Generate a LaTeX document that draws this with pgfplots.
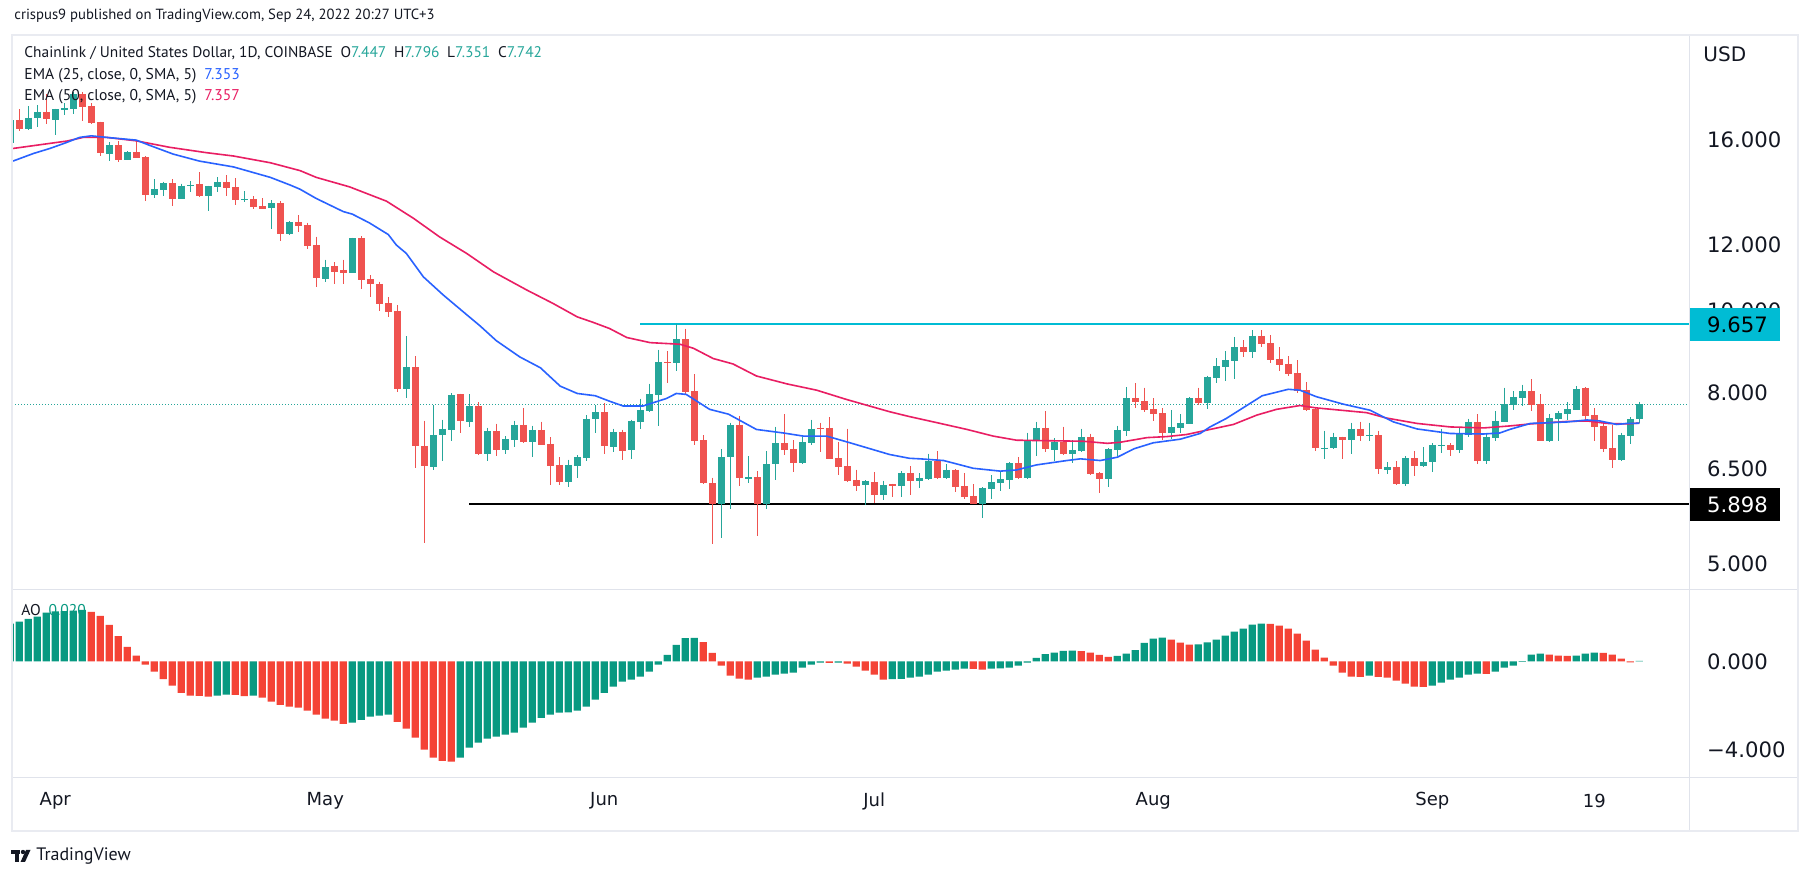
\documentclass[border=0pt]{standalone}
\usepackage{pgfplots}
\pgfplotsset{compat=1.18}
\usepackage{pgfplotstable}
\usepackage{fontspec}
\setmainfont{PT Sans}
\newfontfamily\dejavu{DejaVu Sans}
\definecolor{tvgreen}{HTML}{26A69A}
\definecolor{tvred}{HTML}{EF5350}
\definecolor{aogreen}{HTML}{089981}
\definecolor{aored}{HTML}{F44336}
\definecolor{emablue}{HTML}{2962FF}
\definecolor{emapink}{HTML}{E91E63}
\definecolor{cyanline}{HTML}{00BCD4}
\definecolor{framec}{HTML}{E0E3EB}
\definecolor{textdark}{HTML}{131722}

\pgfplotstableread{
k o h l c
-1 15.83 16.90 15.80 16.87
1 16.46 17.53 16.44 16.99
2 16.96 17.58 16.56 17.25
4 16.87 17.40 16.21 17.39
5 17.34 17.66 17.12 17.45
6 17.39 18.23 17.15 18.12
10 15.38 15.88 15.08 15.75
12 15.13 15.50 15.12 15.45
15 13.74 14.35 13.63 13.96
16 13.94 14.24 13.70 14.20
18 13.60 14.18 13.59 14.10
19 14.08 14.27 13.85 14.12
21 13.70 14.09 13.15 14.08
22 14.04 14.42 13.85 14.22
25 13.57 13.89 13.49 13.59
28 13.27 13.55 12.51 13.43
30 12.34 12.79 12.31 12.75
34 10.92 11.50 10.84 11.28
37 11.10 12.22 11.09 12.21
43 8.07 9.33 7.88 8.57
46 6.52 7.73 6.47 7.12
47 7.12 7.42 6.63 7.24
48 7.22 7.99 7.00 7.94
50 7.38 7.96 7.28 7.71
52 6.76 7.26 6.63 7.20
54 6.83 7.10 6.76 7.04
55 7.02 7.40 6.89 7.32
57 6.98 7.30 6.70 7.22
61 6.26 6.65 6.17 6.56
62 6.54 6.74 6.33 6.70
63 6.68 7.52 6.63 7.44
64 7.44 7.73 7.16 7.58
66 6.89 7.24 6.79 7.18
68 6.83 7.42 6.67 7.40
69 7.38 7.86 7.24 7.62
70 7.60 8.19 7.59 7.96
71 7.94 8.99 7.30 8.70
73 8.68 9.657 8.48 9.26
78 5.90 6.85 5.37 6.70
79 6.70 7.36 5.81 7.32
81 6.32 6.72 6.24 6.34
83 5.90 6.81 5.81 6.57
84 6.57 7.28 6.29 6.96
87 6.59 7.08 6.58 6.98
88 6.96 7.42 6.93 7.24
94 6.21 6.29 5.88 6.28
96 6.04 6.28 5.96 6.21
98 6.19 6.45 6.01 6.41
100 6.28 6.41 6.16 6.33
101 6.31 6.76 6.29 6.63
103 6.33 6.57 6.32 6.47
107 5.90 6.17 5.67 6.16
108 6.14 6.38 5.97 6.26
109 6.24 6.43 6.11 6.31
110 6.29 6.61 6.14 6.59
112 6.33 7.16 6.31 7.02
113 7.00 7.38 6.72 7.26
115 6.83 7.06 6.63 6.98
117 6.76 7.02 6.59 6.83
118 6.81 7.24 6.80 7.08
121 6.31 6.87 6.17 6.85
122 6.83 7.30 6.72 7.22
123 7.20 8.12 7.10 7.88
128 7.16 7.62 7.04 7.28
129 7.26 7.54 7.16 7.36
130 7.34 7.90 7.33 7.88
132 7.77 8.37 7.64 8.35
133 8.33 8.79 8.21 8.60
134 8.57 8.96 8.25 8.74
135 8.72 9.31 8.30 9.06
137 8.94 9.49 8.79 9.34
145 6.86 7.20 6.67 6.88
146 6.87 7.16 6.86 7.08
148 7.02 7.36 6.76 7.24
150 7.11 7.36 7.00 7.12
152 6.47 6.61 6.40 6.52
154 6.22 6.72 6.19 6.68
156 6.54 6.89 6.53 6.61
157 6.61 6.96 6.43 6.93
158 6.91 7.24 6.78 6.92
160 6.83 7.26 6.78 7.14
161 7.12 7.44 7.08 7.38
163 6.63 7.16 6.57 7.08
164 7.06 7.60 7.00 7.40
165 7.38 8.10 7.37 7.75
166 7.74 8.03 7.62 7.90
167 7.88 8.17 7.71 8.03
170 7.01 7.54 6.98 7.46
171 7.44 7.60 7.01 7.56
172 7.55 7.79 7.42 7.64
173 7.63 8.14 7.62 8.07
178 6.65 7.16 6.64 7.12
179 7.10 7.48 6.95 7.44
180 7.447 7.796 7.351 7.742
}\greencandles

\pgfplotstableread{
k o h l c
0 16.87 17.38 16.39 16.46
3 17.25 18.12 16.67 16.91
7 18.10 18.20 16.82 17.50
8 17.53 17.66 16.69 16.73
9 16.78 16.80 15.30 15.43
11 15.75 15.93 15.05 15.12
13 15.45 15.94 15.19 15.20
14 15.24 15.28 13.51 13.74
17 14.20 14.35 13.33 13.60
20 14.15 14.63 13.66 13.69
23 14.22 14.50 13.70 14.00
24 14.04 14.39 13.37 13.55
26 13.59 13.70 13.22 13.30
27 13.33 13.62 13.21 13.22
29 13.43 13.51 12.11 12.34
31 12.76 13.00 12.41 12.63
32 12.65 12.73 11.84 11.94
33 11.98 12.25 10.68 10.95
35 11.31 11.43 10.77 11.12
36 11.19 11.50 10.77 11.10
38 12.21 12.28 10.62 10.88
39 10.91 11.03 10.39 10.77
40 10.77 10.83 10.00 10.19
41 10.22 10.39 9.83 9.97
42 10.00 10.16 8.01 8.07
44 8.57 8.84 6.50 6.91
45 6.91 7.40 5.30 6.54
49 7.96 7.97 7.16 7.40
51 7.71 7.79 6.75 6.76
53 7.20 7.34 6.72 6.83
56 7.32 7.66 6.96 6.98
58 7.22 7.38 6.92 6.93
59 6.95 7.08 6.21 6.54
60 6.56 6.70 6.21 6.26
65 7.58 7.77 6.76 6.91
67 7.18 7.22 6.65 6.81
72 8.70 8.96 8.21 8.68
74 9.26 9.52 7.96 8.01
75 8.03 8.41 6.93 7.00
76 7.02 7.12 6.23 6.24
77 6.24 6.33 5.28 5.90
80 7.32 7.50 6.20 6.33
82 6.34 6.45 5.40 5.90
85 6.96 7.54 6.74 6.83
86 6.85 7.02 6.43 6.59
89 7.26 7.36 6.79 7.24
90 7.26 7.48 6.66 6.67
91 6.68 6.98 6.38 6.52
92 6.54 7.24 6.26 6.27
93 6.29 6.47 6.11 6.19
95 6.26 6.43 5.91 6.04
97 6.22 6.23 6.01 6.20
99 6.41 6.54 6.04 6.28
102 6.63 6.81 6.32 6.33
104 6.47 6.48 6.09 6.17
105 6.19 6.41 5.97 6.01
106 6.02 6.22 5.89 5.90
111 6.59 6.70 6.31 6.33
114 7.26 7.60 6.79 6.85
116 6.98 7.28 6.74 6.76
119 7.08 7.14 6.39 6.40
120 6.41 6.43 6.07 6.31
124 7.88 8.21 7.66 7.79
125 7.81 8.10 7.58 7.62
126 7.64 7.88 7.40 7.54
127 7.56 7.66 7.02 7.16
131 7.88 8.10 7.73 7.77
136 9.06 9.23 8.82 8.94
138 9.34 9.49 9.06 9.13
139 9.16 9.36 8.67 8.74
140 8.77 9.06 8.48 8.62
141 8.65 8.84 8.36 8.41
142 8.43 8.74 7.99 8.03
143 8.05 8.23 7.60 7.62
144 7.64 7.66 6.81 6.87
147 7.08 7.09 6.67 7.02
149 7.24 7.38 7.00 7.10
151 7.12 7.20 6.40 6.49
153 6.52 6.63 6.21 6.22
155 6.68 6.81 6.36 6.54
159 6.93 6.96 6.72 6.83
162 7.38 7.54 6.57 6.63
168 8.03 8.30 7.60 7.73
169 7.75 7.96 7.00 7.01
174 8.10 8.12 7.40 7.51
175 7.52 7.66 7.01 7.28
176 7.30 7.34 6.80 6.86
177 6.87 7.32 6.51 6.65
}\redcandles

\pgfplotstableread{
k v
-0.7 15.08
1.6 15.40
3.4 15.61
5.2 15.86
6.7 16.09
8 16.16
9.7 16.09
13 15.97
14.5 15.74
17.1 15.37
20 15.08
23.8 14.84
27.9 14.42
30.1 14.12
31.2 13.96
33 13.61
36 13.13
37 13.04
38.9 12.73
41 12.33
41.9 11.98
43 11.71
44.9 10.98
47.1 10.45
49.9 9.86
51.2 9.60
53 9.22
55.6 8.82
57.9 8.56
60.1 8.14
62 7.98
64 7.93
65.6 7.81
67.1 7.71
69.3 7.71
71.9 7.87
73 7.98
74.1 7.96
76.7 7.64
78.8 7.54
81.9 7.23
84.9 7.16
87.1 7.10
89.7 7.10
92.3 6.97
96.7 6.75
98.9 6.68
100.1 6.67
102.7 6.64
106 6.50
109 6.45
110.8 6.47
113 6.56
116.4 6.64
117.9 6.67
120.1 6.64
122 6.70
123.9 6.86
126 6.97
129 7.04
131.2 7.15
132.3 7.28
134.1 7.45
138.1 7.93
141 8.07
142.3 8.05
144.1 7.91
147.1 7.75
150.1 7.62
152.7 7.38
155.3 7.24
159 7.15
162.7 7.14
164.5 7.16
165.6 7.23
167.9 7.35
172 7.38
174.2 7.42
175.6 7.40
177.5 7.33
178.6 7.35
180 7.353
}\emaA

\pgfplotstableread{
k v
-0.7 15.61
5.3 15.93
7.1 16.09
9.7 16.09
13 15.94
16.7 15.66
20.8 15.43
23.8 15.29
27.9 15.01
31.2 14.69
33 14.42
36.7 14.05
40.8 13.51
43.8 12.89
46.7 12.25
49.7 11.71
52.7 11.13
56.4 10.59
59.3 10.21
62 9.84
63.8 9.69
65.6 9.53
67.5 9.30
70.1 9.17
73.4 9.13
74.9 9.03
77.1 8.78
79.3 8.65
81.9 8.37
85.3 8.19
88.6 8.05
91.9 7.85
94.1 7.73
96.7 7.59
98.9 7.49
101.6 7.38
105.3 7.23
108.2 7.10
110.8 7.02
114.5 7.01
118.2 7.00
120.9 6.96
122.3 6.98
125.3 7.07
127.5 7.09
129.7 7.13
132.3 7.23
134.9 7.33
137.5 7.52
139.7 7.64
142.3 7.72
144.1 7.67
149.7 7.57
151.9 7.46
155.3 7.35
159 7.28
162.7 7.26
165.6 7.30
167.9 7.34
172 7.39
174.2 7.40
176.4 7.35
178.6 7.34
180 7.357
}\emaB

\pgfplotstableread{
k v
-1 1.70
0 1.79
1 1.91
2 2.02
3 2.20
4 2.25
5 2.27
6 2.29
7 2.32
22 -1.55
23 -1.51
26 -1.55
37 -2.77
38 -2.64
39 -2.50
40 -2.45
41 -2.41
49 -4.35
50 -3.90
51 -3.67
52 -3.49
53 -3.40
54 -3.31
55 -3.22
56 -3.00
57 -2.77
58 -2.55
59 -2.41
60 -2.32
61 -2.31
62 -2.23
63 -2.05
64 -1.73
65 -1.42
66 -1.14
67 -0.92
68 -0.83
69 -0.69
70 -0.47
71 -0.15
72 0.29
73 0.74
74 1.05
75 1.06
82 -0.74
83 -0.69
84 -0.60
85 -0.56
86 -0.51
87 -0.29
88 -0.15
89 -0.06
91 -0.06
97 -0.81
98 -0.79
99 -0.74
100 -0.69
101 -0.60
102 -0.47
103 -0.42
104 -0.38
105 -0.33
108 -0.33
109 -0.32
110 -0.29
111 -0.20
112 -0.06
113 0.15
114 0.32
115 0.39
116 0.47
117 0.48
122 0.24
123 0.35
124 0.51
125 0.83
126 1.02
127 1.07
131 0.76
132 0.85
133 0.98
134 1.16
135 1.34
136 1.48
137 1.66
138 1.70
150 -0.65
157 -1.10
158 -0.96
159 -0.83
160 -0.74
161 -0.60
162 -0.56
164 -0.47
165 -0.29
166 -0.20
167 -0.03
168 0.30
169 0.35
173 0.26
174 0.35
175 0.39
180 0.02
}\aoG

\pgfplotstableread{
k v
8 2.23
9 2.05
10 1.64
11 1.14
12 0.65
13 0.26
14 -0.15
15 -0.47
16 -0.80
17 -1.10
18 -1.42
19 -1.55
20 -1.56
21 -1.60
24 -1.52
25 -1.57
27 -1.64
28 -1.82
29 -1.97
30 -2.05
31 -2.09
32 -2.23
33 -2.41
34 -2.59
35 -2.68
36 -2.82
42 -2.73
43 -3.04
44 -3.45
45 -3.99
46 -4.35
47 -4.49
48 -4.53
76 0.87
77 0.38
78 -0.20
79 -0.65
80 -0.78
81 -0.83
90 -0.07
92 -0.11
93 -0.24
94 -0.42
95 -0.60
96 -0.83
106 -0.34
107 -0.38
118 0.46
119 0.39
120 0.29
121 0.20
128 0.98
129 0.84
130 0.75
139 1.69
140 1.61
141 1.48
142 1.25
143 0.93
144 0.53
145 0.17
146 -0.20
147 -0.51
148 -0.69
149 -0.70
151 -0.70
152 -0.74
153 -0.87
154 -1.01
155 -1.14
156 -1.15
163 -0.57
170 0.30
171 0.26
172 0.25
176 0.38
177 0.30
178 0.12
179 -0.05
}\aoR

\pgfplotsset{
  tvaxis/.style={
    scale only axis, width=838.75pt,
    xmin=-0.811, xmax=185.58,
    axis line style={draw=none}, tick style={draw=none},
    major tick length=0pt,
    yticklabel pos=right,
    yticklabel style={anchor=west, inner sep=0pt, xshift=8.6pt,
      font=\dejavu\fontsize{10.6}{12}\selectfont, text=textdark},
  },
  wick/.style={only marks, mark=*, mark size=0pt,
    mark options={draw=none, fill=none}, forget plot,
    error bars/.cd, y dir=minus, y explicit, error mark=none,
    error bar style={draw=#1, line width=0.5pt}},
  body/.style={only marks, mark=*, mark size=0pt,
    mark options={draw=none, fill=none}, forget plot,
    error bars/.cd, y dir=minus, y explicit, error mark=none,
    error bar style={draw=#1, line width=3.5pt}},
}

\begin{document}
\begin{tikzpicture}
\fill[white] (0pt,0pt) rectangle (906pt,-438pt);
\path[use as bounding box] (0pt,0pt) rectangle (906pt,-438pt);

\begin{axis}[tvaxis,
  at={(6pt,-295pt)}, anchor=south west, height=277.5pt,
  ymode=log, ymin=4.657, ymax=21.30,
  xtick=\empty,
  ytick={5,6.5,8,10,12,16},
  yticklabels={5.000,6.500,8.000,10.000,12.000,16.000},
]
\addplot[tvgreen, line width=0.5pt, dash pattern=on 0.5pt off 1pt, forget plot]
  coordinates {(-0.811,7.742) (185.58,7.742)};
\addplot[cyanline, line width=1pt, forget plot] coordinates {(69,9.657) (185.58,9.657)};
\addplot[black, line width=1.1pt, forget plot] coordinates {(50,5.898) (185.58,5.898)};
\addplot[wick=tvgreen] table[x=k, y=h, y error minus expr=\thisrow{h}-\thisrow{l}] {\greencandles};
\addplot[body=tvgreen] table[x=k, y=c, y error minus expr=\thisrow{c}-\thisrow{o}] {\greencandles};
\addplot[wick=tvred] table[x=k, y=h, y error minus expr=\thisrow{h}-\thisrow{l}] {\redcandles};
\addplot[body=tvred] table[x=k, y=o, y error minus expr=\thisrow{o}-\thisrow{c}] {\redcandles};
\addplot[emapink, line width=0.8pt, forget plot] table[x=k, y=v] {\emaB};
\addplot[emablue, line width=0.8pt, forget plot] table[x=k, y=v] {\emaA};
\end{axis}

\begin{axis}[tvaxis,
  at={(6pt,-388.65pt)}, anchor=south west, height=93.65pt,
  ymin=-5.237, ymax=3.219,
  ytick={0,-4},
  yticklabels={0.000,−4.000},
  xtick={4,34,65,95,126,157,175},
  xticklabels={Apr,May,Jun,Jul,Aug,Sep,19},
  xticklabel style={anchor=center, yshift=-11.85pt,
    font=\dejavu\fontsize{9}{11}\selectfont, text=textdark},
]
\addplot[ybar, bar width=0.8, bar shift=0pt, fill=aogreen, draw=none, forget plot] table[x=k, y=v] {\aoG};
\addplot[ybar, bar width=0.8, bar shift=0pt, fill=aored, draw=none, forget plot] table[x=k, y=v] {\aoR};
\end{axis}

\begin{scope}[x=0.5pt, y=-0.5pt]
  % frames
  \draw[framec, line width=0.5pt] (12,590) -- (1798,590);
  \draw[framec, line width=0.5pt] (12,777.3) -- (1798,777.3);
  \draw[framec, line width=0.5pt] (1689.5,35) -- (1689.5,831);
  \draw[framec!70, line width=1pt] (12,35) rectangle (1798,831);
  % price boxes
  \fill[cyanline] (1689.5,308) rectangle (1780,341);
  \node[anchor=west, inner sep=0pt, font=\dejavu\fontsize{10.6}{12}\selectfont, text=black] at (1706.7,324.5) {9.657};
  \fill[black] (1689.5,487.7) rectangle (1780,521.3);
  \node[anchor=west, inner sep=0pt, font=\dejavu\fontsize{10.6}{12}\selectfont, text=white] at (1706.7,504.5) {5.898};
  \node[anchor=west, inner sep=0pt, font=\dejavu\fontsize{10}{12}\selectfont, text=textdark] at (1703,54.5) {USD};
  % header
  \node[anchor=west, inner sep=0pt, font=\fontsize{7.35}{8}\selectfont, text=textdark] at (14,16)
    {crispus9 published on TradingView.com, Sep 24, 2022 20:27 UTC+3};
  \node[anchor=west, inner sep=0pt, font=\fontsize{7.7}{9}\selectfont, text=textdark] at (24,53)
    {Chainlink / United States Dollar, 1D, COINBASE\enspace O\textcolor{tvgreen}{7.447}\enspace H\textcolor{tvgreen}{7.796}\enspace L\textcolor{tvgreen}{7.351}\enspace C\textcolor{tvgreen}{7.742}};
  \node[anchor=west, inner sep=0pt, font=\fontsize{7.8}{9}\selectfont, text=textdark] at (24,76)
    {EMA (25, close, 0, SMA, 5)\enspace\textcolor{emablue}{7.353}};
  \node[anchor=west, inner sep=0pt, font=\fontsize{7.8}{9}\selectfont, text=textdark] at (24,97)
    {EMA (50, close, 0, SMA, 5)\enspace\textcolor{emapink}{7.357}};
  \node[anchor=west, inner sep=0pt, font=\fontsize{7.8}{9}\selectfont, text=textdark] at (21,610)
    {AO\enspace\textcolor{aogreen}{0.020}};
  % TradingView logo
  \fill[textdark] (11,850) rectangle (20,854);
  \fill[textdark] (14.5,850) rectangle (18.5,862);
  \fill[textdark] (23,852) circle (2.2);
  \fill[textdark] (26,850) -- (30.5,850) -- (25,862) -- (20.5,862) -- cycle;
  \node[anchor=west, inner sep=0pt, font=\fontsize{9}{10}\selectfont, text=textdark] at (36,856.5) {TradingView};
\end{scope}
\end{tikzpicture}
\end{document}
